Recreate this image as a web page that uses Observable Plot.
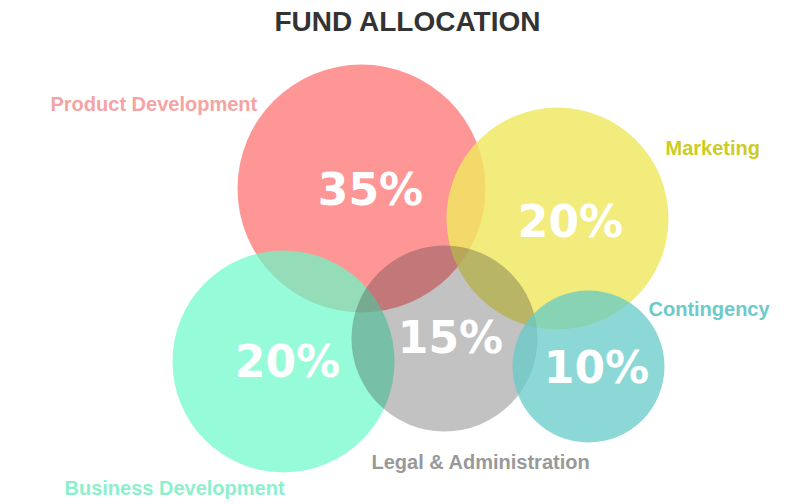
<!DOCTYPE html>
<html>
<head>
<meta charset="utf-8">
<script src="https://cdn.jsdelivr.net/npm/d3@7"></script>
<script src="https://cdn.jsdelivr.net/npm/@observablehq/plot@0.6"></script>
<style>
  html, body { margin: 0; padding: 0; background: #fff; }
  #title { height: 46px; line-height: 44px; text-align: center; font-family: "Liberation Sans", Arial, sans-serif; font-weight: bold; font-size: 28px; color: #333; padding-left: 6px; }
  #chart svg { display: block; }
</style>
</head>
<body>
<div id="title">FUND ALLOCATION</div>
<div id="chart"></div>
<script>
// Categories and their allocation shares (percent)
const categories = ["Product Development", "Marketing", "Business Development", "Legal & Administration", "Contingency"];
const shares = [35, 20, 20, 15, 10];
// Bubble centres on the page-like layout grid (x across, y down)
const bubbleX = [361, 557, 283, 444, 588];
const bubbleY = [188, 218, 361, 338, 366];
// Percentage label positions
const pctX = [370, 570, 287, 450, 596];
const pctY = [190, 222, 362, 338, 368];
// Category name label positions
const nameX = [50, 665, 64, 371, 648];
const nameY = [104, 148, 488, 462, 309];

const fills = ["#ff7c7c", "#efe85f", "#68fac7", "#363636", "#65cbc8"];
const fillOpacity = [0.8, 0.82, 0.7, 0.3, 0.75];
const nameColors = ["#f5a3a3", "#cccc22", "#8cf0cc", "#999999", "#6ccaca"];

const data = categories.map((c, i) => ({
  category: c, share: shares[i], x: bubbleX[i], y: bubbleY[i],
  px: pctX[i], py: pctY[i], nx: nameX[i], ny: nameY[i],
  fill: fills[i], op: fillOpacity[i], nc: nameColors[i]
}));

const titleH = 46;
const chart = Plot.plot({
  width: 809,
  height: 504 - titleH,
  margin: 0,
  x: {domain: [0, 809], range: [0, 809], axis: null},
  y: {domain: [titleH, 504], range: [0, 504 - titleH], axis: null},
  r: {type: "linear", domain: [10, 15, 20, 35], range: [76, 93, 111, 124]},
  style: {fontFamily: "'Liberation Sans', Arial, sans-serif", background: "#fff"},
  marks: [
    ...data.map(d => Plot.dot([d], {x: "x", y: "y", r: "share", fill: d.fill, fillOpacity: d.op, stroke: null})),
    Plot.text(data, {x: "px", y: "py", text: d => d.share + "%", fill: "#fff", fontSize: 44, fontWeight: "bold", fontFamily: "'DejaVu Sans', sans-serif", textAnchor: "middle"}),
    Plot.text(data, {x: "nx", y: "ny", text: "category", fill: "nc", fontSize: 20, fontWeight: "bold", textAnchor: "start"})
  ]
});
document.getElementById("chart").appendChild(chart);
</script>
</body>
</html>
